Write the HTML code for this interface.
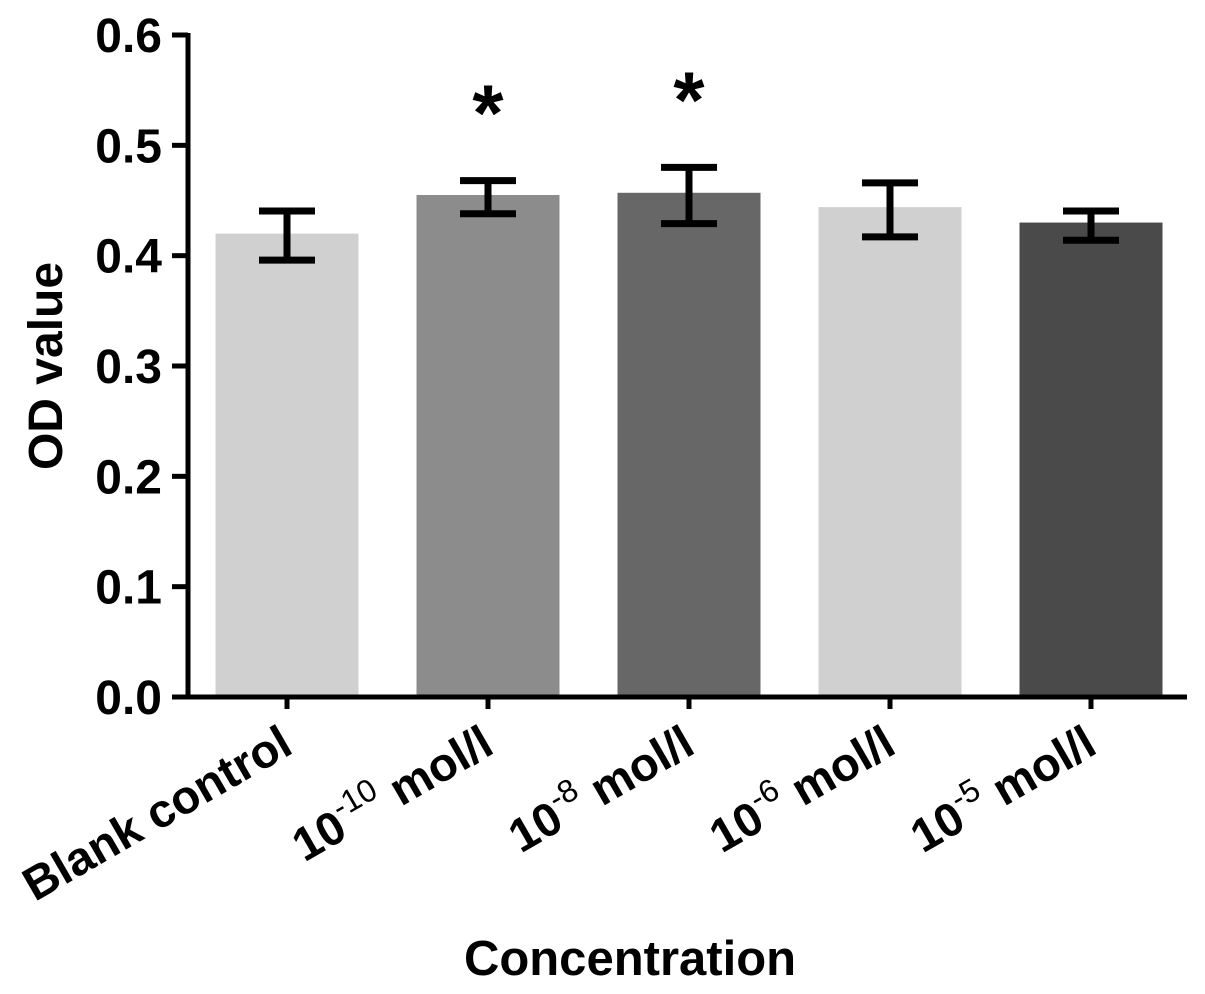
<!DOCTYPE html>
<html><head><meta charset="utf-8"><style>
body{margin:0;background:#fff}
svg text{font-family:"Liberation Sans",Arial,sans-serif;font-weight:bold;fill:#000}
</style></head><body>
<svg id="chart" width="1205" height="989" viewBox="0 0 1205 989" xmlns="http://www.w3.org/2000/svg">
<g id="bars"></g>
<g id="axes"></g>
<text transform="translate(62,366) rotate(-90)" text-anchor="middle" font-size="48">OD value</text>
<text x="630" y="975" text-anchor="middle" font-size="49">Concentration</text>
</svg>
<script>
const categories = ["Blank control","10|-10","10|-8","10|-6","10|-5"];
const values = [0.42, 0.455, 0.457, 0.444, 0.43];
const errLow = [0.396, 0.438, 0.429, 0.417, 0.414];
const errHigh = [0.4405, 0.468, 0.480, 0.466, 0.4405];
const colors = ["#d0d0d0","#8c8c8c","#676767","#d0d0d0","#4a4a4a"];
const significant = [false, true, true, false, false];
const yTicks = [0.0,0.1,0.2,0.3,0.4,0.5,0.6];
const yTickLabels = ["0.0","0.1","0.2","0.3","0.4","0.5","0.6"];

const NS="http://www.w3.org/2000/svg";
const y0=697, y1=35, yMax=0.6;
function yScale(v){return y0-(v/yMax)*(y0-y1);}
const xStart=187, step=201, barW=143;
function xCenter(i){return xStart+100+i*step;}
function mk(tag,attrs,parent){const e=document.createElementNS(NS,tag);for(const k in attrs)e.setAttribute(k,attrs[k]);parent.appendChild(e);return e;}
const bars=document.getElementById('bars'), axes=document.getElementById('axes');
values.forEach((v,i)=>{
  const cx=xCenter(i);
  const r=mk('rect',{x:cx-barW/2,y:yScale(v),width:barW,height:y0-yScale(v),fill:colors[i]},bars);
  
  
  const g=mk('g',{stroke:'#000','stroke-width':7,fill:'none'},bars);
  
  
  mk('line',{x1:cx,x2:cx,y1:yScale(errLow[i]),y2:yScale(errHigh[i])},g);
  mk('line',{x1:cx-28,x2:cx+28,y1:yScale(errLow[i]),y2:yScale(errLow[i])},g);
  mk('line',{x1:cx-28,x2:cx+28,y1:yScale(errHigh[i]),y2:yScale(errHigh[i])},g);
  if(significant[i]){
    const s=mk('text',{x:cx,y:yScale(errHigh[i])-40,'text-anchor':'middle','font-size':80},bars);
    s.textContent='*';
    
    
  }
  mk('line',{x1:cx,x2:cx,y1:y0,y2:y0+12,stroke:'#000','stroke-width':5},axes);
  const t=mk('text',{transform:`translate(${cx+8},752) rotate(-30)`,'text-anchor':'end','font-size':47},axes);
  
  
  const c=categories[i];
  if(c.includes('|')){
    const [b,e]=c.split('|');
    const a=document.createElementNS(NS,'tspan');a.textContent=b;t.appendChild(a);
    const sp=document.createElementNS(NS,'tspan');sp.textContent=e;sp.setAttribute('font-size','32');sp.setAttribute('font-weight','normal');sp.setAttribute('dy','-20');t.appendChild(sp);
    const m=document.createElementNS(NS,'tspan');m.textContent=' mol/l';m.setAttribute('dy','20');t.appendChild(m);
  } else t.textContent=c;
});
mk('line',{x1:188,x2:1187,y1:y0,y2:y0,stroke:'#000','stroke-width':5},axes);
mk('line',{x1:188,x2:188,y1:y1-2,y2:y0+2,stroke:'#000','stroke-width':5},axes);
yTicks.forEach((v,i)=>{
  mk('line',{x1:172,x2:188,y1:yScale(v),y2:yScale(v),stroke:'#000','stroke-width':5},axes);
  const t=mk('text',{x:162,y:yScale(v)+17,'text-anchor':'end','font-size':48},axes);
  t.textContent=yTickLabels[i];
  
  
});
</script>
</body></html>
